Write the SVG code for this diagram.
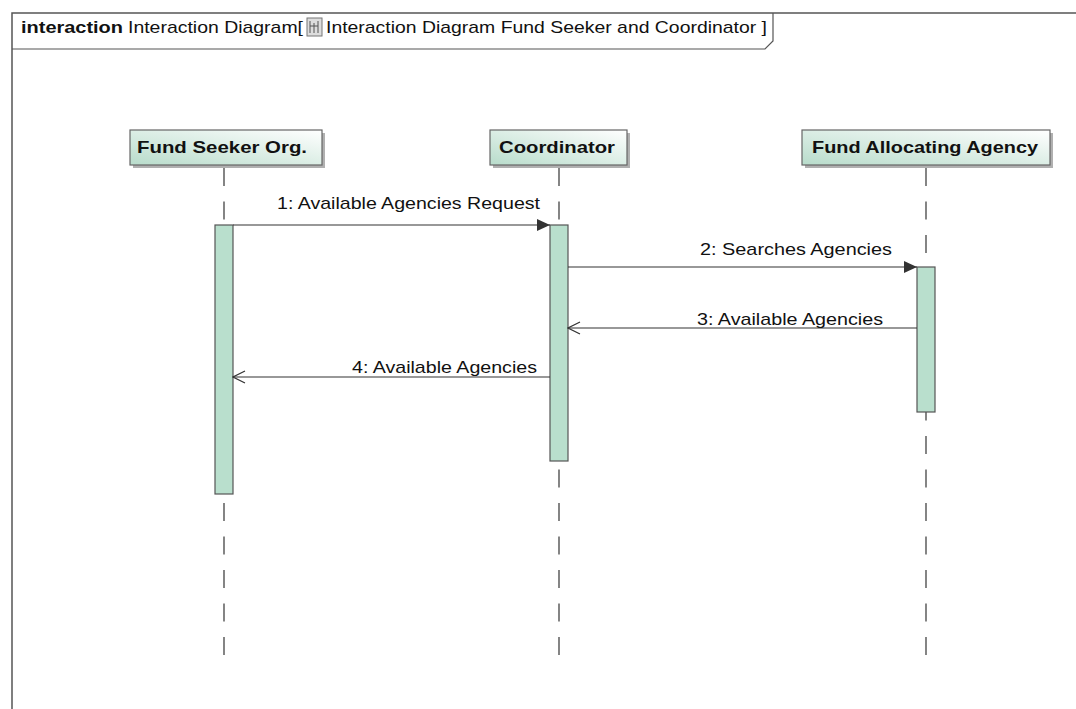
<svg xmlns="http://www.w3.org/2000/svg" width="1076" height="709" viewBox="0 0 1076 709">
<style>
.t{font-family:"Liberation Sans",Arial,sans-serif;font-size:17px;fill:#111}
.b{font-weight:bold}
.ll{stroke:#444;stroke-width:1.3;stroke-dasharray:18 15.5}
.act{fill:#b9dfcd;stroke:#555;stroke-width:1.2}
.hd{fill:url(#g);stroke:#666;stroke-width:1.2}
.sh{fill:#b0b0b0}
.msg{stroke:#333;stroke-width:1.2;fill:none}
</style>
<defs>
<linearGradient id="g" x1="0" y1="1" x2="1" y2="0">
<stop offset="0" stop-color="#b8dccb"/>
<stop offset="1" stop-color="#ffffff"/>
</linearGradient>
<marker id="fa" markerWidth="14" markerHeight="12" refX="13" refY="6" orient="auto" markerUnits="userSpaceOnUse">
<path d="M0,0 L13,6 L0,12 Z" fill="#333"/>
</marker>
<marker id="oa" markerWidth="14" markerHeight="14" refX="13" refY="7" orient="auto" markerUnits="userSpaceOnUse">
<path d="M1,1 L13,7 L1,13" fill="none" stroke="#333" stroke-width="1.2"/>
</marker>
</defs>
<rect width="1076" height="709" fill="#fff"/>
<g id="frame">
<path d="M12,709 L12,13 L1076,13" fill="none" stroke="#555" stroke-width="1.5"/>
<path d="M12,49 L765,49 L773,41 L773,13" fill="none" stroke="#555" stroke-width="1.2"/>
<text class="t b" x="21" y="33" textLength="102" lengthAdjust="spacingAndGlyphs">interaction</text>
<text class="t" x="128" y="33" textLength="175" lengthAdjust="spacingAndGlyphs">Interaction Diagram[</text>
<rect x="307" y="18" width="15" height="18" fill="#ddd" stroke="#777" stroke-width="1"/>
<path d="M310,21 v12 M314,23 v10 M318,21 v12 M310,26 h8" stroke="#555" stroke-width="1"/>
<text class="t" x="326" y="33" textLength="441" lengthAdjust="spacingAndGlyphs">Interaction Diagram Fund Seeker and Coordinator ]</text>
</g>
<g id="fund-seeker">
<rect class="sh" x="133" y="133" width="192" height="35"/>
<rect class="hd" x="130" y="130" width="192" height="35"/>
<text class="t b" x="137" y="153" textLength="170" lengthAdjust="spacingAndGlyphs">Fund Seeker Org.</text>
<line class="ll" x1="224" y1="168" x2="224" y2="655"/>
<rect class="act" x="215" y="225" width="18" height="269"/>
</g>
<g id="coordinator">
<rect class="sh" x="493" y="133" width="137" height="35"/>
<rect class="hd" x="490" y="130" width="137" height="35"/>
<text class="t b" x="499" y="153" textLength="116" lengthAdjust="spacingAndGlyphs">Coordinator</text>
<line class="ll" x1="559" y1="168" x2="559" y2="655"/>
<rect class="act" x="550" y="225" width="18" height="236"/>
</g>
<g id="fund-allocating-agency">
<rect class="sh" x="805" y="133" width="248" height="35"/>
<rect class="hd" x="802" y="130" width="248" height="35"/>
<text class="t b" x="812" y="153" textLength="226" lengthAdjust="spacingAndGlyphs">Fund Allocating Agency</text>
<line class="ll" x1="926" y1="168" x2="926" y2="655"/>
<rect class="act" x="917" y="267" width="18" height="145"/>
</g>
<g id="connectors">
<line class="msg" x1="233" y1="225" x2="550" y2="225" marker-end="url(#fa)"/>
<text class="t" x="277" y="209" textLength="263" lengthAdjust="spacingAndGlyphs">1: Available Agencies Request</text>
<line class="msg" x1="568" y1="267" x2="917" y2="267" marker-end="url(#fa)"/>
<text class="t" x="700" y="255" textLength="192" lengthAdjust="spacingAndGlyphs">2: Searches Agencies</text>
<line class="msg" x1="917" y1="328" x2="568" y2="328" marker-end="url(#oa)"/>
<text class="t" x="697" y="325" textLength="186" lengthAdjust="spacingAndGlyphs">3: Available Agencies</text>
<line class="msg" x1="550" y1="377" x2="233" y2="377" marker-end="url(#oa)"/>
<text class="t" x="352" y="373" textLength="185" lengthAdjust="spacingAndGlyphs">4: Available Agencies</text>
</g>
</svg>
